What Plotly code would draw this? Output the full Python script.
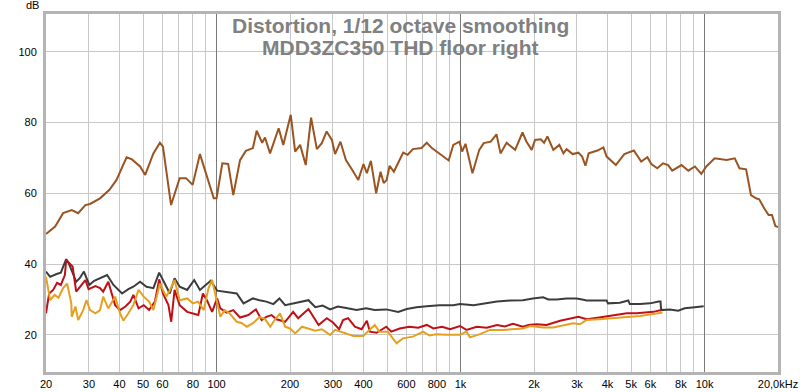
import plotly.graph_objects as go

# ---------------- data ----------------
brown_f = [20, 21.8, 23.5, 25.5, 27.1, 29.0, 30.3, 33.3, 36.4, 38.9, 42.8, 45.0, 48.6, 51.0, 55.1, 58.6, 60.3,
           65.1, 70.6, 75, 79.8, 85.5, 97.4, 100, 105.6, 111.6, 117.1, 124.8, 131.8, 141, 146, 153.8, 158,
           165.7, 179.7, 187.7, 201.4, 210, 220, 232, 244, 257.7, 270, 282.6, 297, 306, 322, 339, 360, 381,
           400, 413, 429, 451, 470, 484, 498, 512, 533, 557, 582, 607, 638, 692, 727, 763, 837, 894, 934,
           990, 1015, 1048, 1119, 1193, 1245, 1329, 1404, 1458, 1544, 1674, 1794, 1864, 1957, 2020, 2131,
           2200, 2270, 2400, 2540, 2640, 2720, 2880, 3040, 3150, 3250, 3350, 3640, 3850, 3970, 4330, 4690,
           5130, 5500, 5830, 6050, 6400, 6760, 7090, 7370, 8050, 8580, 9130, 9700, 10170, 11000, 11560,
           12310, 13300, 13900, 14800, 15500, 16250, 16750, 17550, 18300, 18900, 19500, 20000]
brown_db = [48.5, 50.6, 54.4, 55.3, 54.4, 56.7, 57.0, 58.6, 61.0, 63.8, 70.2, 69.6, 67.6, 65.2, 71.3, 74.3, 73.2,
            56.7, 64.3, 64.3, 62.4, 71.1, 58.6, 58.6, 68.5, 68.3, 59.5, 69.4, 72.0, 72.8, 77.7, 74.3, 75.8,
            71.3, 78.4, 73.7, 82.2, 71.8, 73.7, 68.0, 81.4, 72.5, 74.2, 77.5, 75.1, 71.1, 74.6, 69.4, 66.6, 63.8,
            68.3, 65.7, 69.2, 60.0, 66.1, 62.9, 63.8, 67.8, 66.1, 69.0, 71.5, 70.9, 72.5, 72.8, 74.3, 72.8, 70.9, 69.3, 73.7,
            74.6, 71.8, 74.0, 65.7, 72.3, 74.2, 74.6, 76.7, 71.3, 74.3, 72.3, 77.2, 74.6, 72.3, 75.1, 75.3,
            74.3, 76.1, 72.3, 73.7, 71.3, 72.5, 71.1, 71.5, 70.4, 67.8, 71.3, 72.1, 73.0, 70.4, 68.0, 71.1,
            72.1, 69.0, 70.2, 68.3, 67.1, 68.5, 68.0, 66.4, 68.0, 66.4, 67.6, 65.5, 67.6, 69.9, 69.6,
            69.4, 69.9, 67.1, 66.8, 59.5, 58.6, 58.3, 55.8, 53.9, 53.9, 50.8, 50.5]

gray_f = [20, 20.8, 22.1, 23.0, 24.2, 24.8, 26.6, 27.5, 28.6, 30.1, 31.5, 33.3, 35.6, 37.8, 41.0, 43.5, 45.6,
          48.6, 51.6, 55.1, 58.2, 62.3, 64.3, 67.3, 70.6, 75.8, 81, 85.5, 94.6, 100.5, 110, 121, 129, 141,
          150, 160, 171, 181, 191, 206, 222, 238, 254, 272, 292, 314, 340, 375, 410, 445, 496, 555, 602,
          660, 727, 820, 934, 995, 1130, 1240, 1410, 1600, 1800, 1980, 2180, 2290, 2480, 2720, 2990, 3150,
          3290, 3640, 3970, 4020, 4500, 4870, 4940, 5440, 5980, 6480, 6600, 6640, 7200, 7800, 8290, 9120, 9920]
gray_db = [37.9, 36.4, 37.2, 37.6, 41.4, 40.2, 35.0, 36.0, 37.9, 34.1, 35.3, 36.0, 36.9, 34.1, 31.7, 32.9, 33.6,
           35.0, 33.6, 33.2, 37.6, 33.6, 31.7, 36.0, 33.6, 32.7, 35.5, 32.7, 35.3, 32.5, 32.2, 31.7, 28.9, 30.3,
           29.8, 29.4, 28.7, 30.3, 28.4, 28.9, 29.2, 29.8, 27.8, 28.3, 27.2, 28.0, 27.6, 27.0, 27.5, 27.0, 27.2, 26.5, 27.3,
           27.8, 28.1, 28.4, 28.4, 28.7, 28.4, 28.9, 29.4, 29.7, 29.8, 30.3, 30.6, 30.0, 30.0, 30.3, 30.3, 30.0,
           29.7, 29.7, 29.7, 28.9, 29.1, 29.7, 28.7, 28.7, 28.9, 29.4, 29.4, 27.0, 27.2, 26.8, 27.5, 27.8, 28.1]

red_f = [20, 20.6, 21.4, 22.2, 23.0, 23.9, 24.2, 25.7, 26.6, 27.7, 29.0, 29.9, 31.9, 33.3, 34.3, 36.0, 38.4,
         40.2, 42.3, 44.3, 45.6, 47.9, 50.3, 52.9, 55.9, 58.2, 60.3, 63.5, 65.2, 67.3, 70.6, 75.8, 84.2, 87.9,
         91.3, 95.9, 100.5, 103.6, 110, 117, 124.8, 135, 145, 153, 160, 168, 176, 191, 206, 216, 238, 262,
         283, 300, 318, 330, 346, 369, 393, 413, 425, 453, 496, 520, 563, 617, 670, 727, 774, 840, 906, 995,
         1057, 1165, 1280, 1410, 1520, 1640, 1800, 1900, 2050, 2250, 2560, 3040, 3290, 3700, 4260, 4800,
         5270, 5790, 6170, 6640]
red_db = [26.1, 31.7, 32.7, 34.7, 34.1, 36.9, 41.2, 39.3, 32.2, 33.6, 35.5, 32.9, 33.8, 33.2, 32.2, 35.0, 28.4,
          27.0, 28.0, 29.4, 31.3, 27.5, 28.4, 27.0, 29.4, 35.7, 31.7, 28.4, 23.7, 32.7, 28.4, 26.5, 25.6, 31.7,
          29.8, 26.5, 30.3, 27.5, 26.3, 27.0, 24.9, 25.6, 27.2, 24.2, 25.1, 25.6, 24.4, 23.7, 26.5, 24.7, 27.3, 22.8,
          24.7, 23.5, 21.6, 24.2, 24.7, 22.3, 21.6, 24.0, 20.9, 20.6, 22.3, 20.9, 21.8, 22.3, 22.0, 22.8, 21.8, 22.3, 21.6, 22.5,
          21.4, 22.3, 22.0, 22.8, 22.4, 23.1, 22.3, 22.8, 23.0, 22.8, 24.0, 25.1, 24.4, 24.9, 25.6, 26.1,
          26.1, 26.3, 26.5, 27.0]

orange_f = [20, 20.8, 21.7, 22.5, 23.5, 24.4, 25.4, 25.5, 26.4, 27.1, 28.4, 29.3, 30.3, 31.9, 33.3, 34.3, 36.0,
            38.4, 40.2, 41.5, 43.5, 45.6, 47.9, 50.3, 52.9, 55.1, 58.6, 60.3, 62.2, 64.5, 67.3, 70.6, 75.8, 80,
            84, 88.6, 92.7, 95.9, 99.6, 103.6, 108, 113, 121, 127, 133, 141, 150, 158, 166, 173, 182, 191, 200,
            210, 224, 238, 254, 270, 292, 306, 330, 364, 399, 425, 445, 465, 503, 547, 580, 638, 703, 745, 795,
            874, 995, 1057, 1093, 1200, 1320, 1490, 1640, 1800, 1930, 2180, 2400, 2720, 2890, 3080, 3290, 3700,
            4260, 4800, 5440, 6170, 6720]
orange_db = [36.4, 29.8, 31.3, 30.5, 33.2, 34.5, 28.9, 25.1, 28.0, 24.2, 27.0, 29.8, 27.0, 26.1, 27.0, 30.8, 27.5,
             30.8, 26.1, 24.0, 26.1, 28.4, 32.7, 30.8, 29.4, 27.0, 34.5, 32.7, 30.8, 32.7, 35.5, 29.8, 30.3, 28.9,
             29.4, 27.0, 33.2, 35.5, 30.3, 25.1, 27.0, 26.1, 23.7, 23.3, 22.3, 23.3, 25.0, 24.5, 22.3, 24.2, 26.1, 22.3, 21.8,
             20.4, 22.3, 21.8, 21.2, 21.6, 20.0, 21.4, 20.6, 19.7, 19.7, 21.4, 22.8, 20.9, 20.9, 17.6, 19.0, 19.5, 20.9, 19.8, 20.2,
             20.0, 20.0, 20.9, 19.3, 20.2, 21.4, 21.4, 21.6, 21.8, 22.5, 22.1, 22.1, 22.8, 23.3, 23.0, 24.2, 24.4,
             24.7, 25.1, 25.3, 25.9, 26.3]

x_grid_vals = [20, 30, 40, 50, 60, 70, 80, 90, 100, 200, 300, 400, 500, 600, 700, 800, 900,
               1000, 2000, 3000, 4000, 5000, 6000, 7000, 8000, 9000, 10000, 20000]
x_grid_text = ["20", "30", "40", "50", "60", "", "80", "", "100", "200", "300", "400", "", "600", "", "800", "",
               "1k", "2k", "3k", "4k", "5k", "6k", "", "8k", "", "10k", "20,0kHz"]
x_decades = [100, 1000, 10000]
y_ticks = [20, 40, 60, 80, 100]

title_line1 = "Distortion, 1/12 octave smoothing"
title_line2 = "MDD3ZC350 THD floor right"

for a, b in [(brown_f, brown_db), (gray_f, gray_db), (red_f, red_db), (orange_f, orange_db)]:
    assert len(a) == len(b), (len(a), len(b))

# ---------------- figure ----------------
XR = [1.30103, 4.30103]
YR = [9.5, 110.7]

fig = go.Figure()
series = [
    (gray_f, gray_db, "#3c3c3c"),
    (red_f, red_db, "#bf1018"),
    (orange_f, orange_db, "#e6a020"),
    (brown_f, brown_db, "#9a5422"),
]
for fx, dy, col in series:
    fig.add_trace(go.Scatter(x=fx, y=dy, mode="lines", line=dict(color=col, width=2),
                             showlegend=False, hoverinfo="skip"))

# invisible trace on overlay axis for decade lines
fig.add_trace(go.Scatter(x=[100], y=[50], xaxis="x2", mode="markers", marker=dict(opacity=0),
                         showlegend=False, hoverinfo="skip"))

tickfont = dict(family="Liberation Sans, Arial, sans-serif", size=11, color="#000000")
fig.update_layout(
    width=800, height=392,
    margin=dict(l=46, r=22, t=14, b=20, autoexpand=False),
    paper_bgcolor="white", plot_bgcolor="white",
    xaxis=dict(type="log", range=XR, tickvals=x_grid_vals, ticktext=x_grid_text, automargin=False,
               showgrid=True, gridcolor="#c8c8c8", gridwidth=1, zeroline=False,
               showline=True, linecolor="#b4b4b4", linewidth=3, mirror=True,
               ticks="", tickfont=tickfont, ticklabelstandoff=0),
    xaxis2=dict(type="log", range=XR, overlaying="x", tickvals=x_decades, showticklabels=False,
                automargin=False,
                showgrid=True, gridcolor="#7a7a7a", gridwidth=1, zeroline=False, showline=False, ticks=""),
    yaxis=dict(range=YR, tickvals=y_ticks, showgrid=True, gridcolor="#c8c8c8", gridwidth=1, automargin=False,
               zeroline=False, showline=True, linecolor="#b4b4b4", linewidth=3, mirror=True,
               ticks="", tickfont=tickfont, ticklabelstandoff=4),
)

title_font = dict(family="Liberation Sans, Arial, sans-serif", size=21, color="#808080")
fig.add_annotation(text="<b>" + title_line1 + "</b>", xref="paper", yref="paper",
                   x=(400 - 46) / 732, y=(372 - 26) / 358, xanchor="center", yanchor="middle",
                   showarrow=False, font=title_font)
fig.add_annotation(text="<b>" + title_line2 + "</b>", xref="paper", yref="paper",
                   x=(400 - 46) / 732, y=(372 - 48) / 358, xanchor="center", yanchor="middle",
                   showarrow=False, font=title_font)
fig.add_annotation(text="dB", xref="paper", yref="paper", x=(32 - 46) / 732, y=(372 - 5) / 358,
                   xanchor="center", yanchor="middle", showarrow=False, font=tickfont)

fig.write_html("out.html", config={"displayModeBar": False},
               post_script="document.body.style.margin='0';document.body.style.overflow='hidden';")
